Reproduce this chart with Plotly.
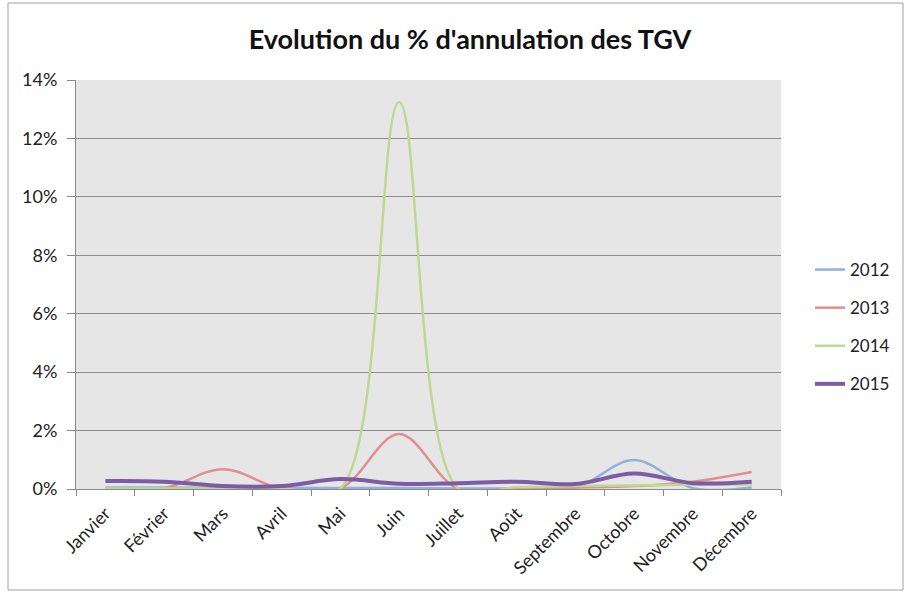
import plotly.graph_objects as go

months = ["Janvier", "Février", "Mars", "Avril", "Mai", "Juin", "Juillet",
          "Août", "Septembre", "Octobre", "Novembre", "Décembre"]
y2012 = [0.0005, 0.0005, 0.0003, 0.0003, 0.0003, 0.0003, 0.0002, 0.0002, 0.0005, 0.0099, 0.0003, 0.0005]
y2013 = [0.0002, 0.0003, 0.0068, 0.0001, 0.0002, 0.0188, 0.0001, 0.0004, 0.0005, 0.0010, 0.0025, 0.0058]
y2014 = [0.0002, 0.0002, 0.0002, 0.0002, 0.0002, 0.1325, 0.0003, 0.0006, 0.0010, 0.0012, 0.0015, 0.0015]
y2015 = [0.0027, 0.0025, 0.0010, 0.0010, 0.0034, 0.0018, 0.0020, 0.0025, 0.0017, 0.0053, 0.0020, 0.0025]
years = ["2012", "2013", "2014", "2015"]
colors = ["#8fb1dc", "#e08f8c", "#bcd98f", "#7d5ba6"]
widths = [2.5, 2.5, 2.5, 4]

fig = go.Figure()
for name, ys, c, w in zip(years, [y2012, y2013, y2014, y2015], colors, widths):
    fig.add_trace(go.Scatter(x=months, y=ys, name=name, mode="lines",
                             legendgroup=name,
                             line=dict(color=c, width=w, shape="spline", smoothing=1.0)))

L, R, T, B = 76, 781, 80, 489
W, H = 904, 593
pw, ph = R - L, B - T
def px(x): return (x - L) / pw
def py(y): return (B - y) / ph

fig.update_layout(
    width=W, height=H,
    margin=dict(l=L, r=W - R, t=T, b=H - B, autoexpand=False),
    paper_bgcolor="white", plot_bgcolor="#e6e6e6",
    font=dict(family="Lato, Open Sans, sans-serif", size=17, color="#222"),
    title=dict(text="<b>Evolution du % d'annulation des TGV</b>", x=470 / W, xanchor="center",
               y=1 - 40 / H, yanchor="middle", font=dict(size=27, color="#111")),
    legend=dict(x=px(810), y=py(327), xanchor="left", yanchor="middle",
                bgcolor="rgba(0,0,0,0)", tracegroupgap=13, font=dict(size=17, color="#222")),
    showlegend=True,
)
fig.update_xaxes(type="category", tickson="boundaries", ticks="outside", ticklen=6,
                 tickcolor="#888", showline=True, linecolor="#888", linewidth=1,
                 showgrid=False, tickangle=-45, tickfont=dict(size=18), range=[-0.5, 11.5],
                 ticklabelstandoff=6)
fig.update_yaxes(range=[0, 0.14], dtick=0.02, tickformat=".0%", ticks="outside", ticklen=8,
                 tickcolor="#888", showline=True, linecolor="#888", linewidth=1,
                 showgrid=True, gridcolor="#8c8c8c", gridwidth=1, zeroline=False,
                 tickfont=dict(size=18), ticklabelstandoff=6)
fig.add_shape(type="rect", xref="paper", yref="paper",
              x0=px(8), x1=px(903), y0=py(590), y1=py(3),
              line=dict(color="#a0a0a0", width=1), fillcolor="rgba(0,0,0,0)", layer="below")
fig.write_html("out.html", config={"displayModeBar": False},
               post_script="document.body.style.margin='0';")
